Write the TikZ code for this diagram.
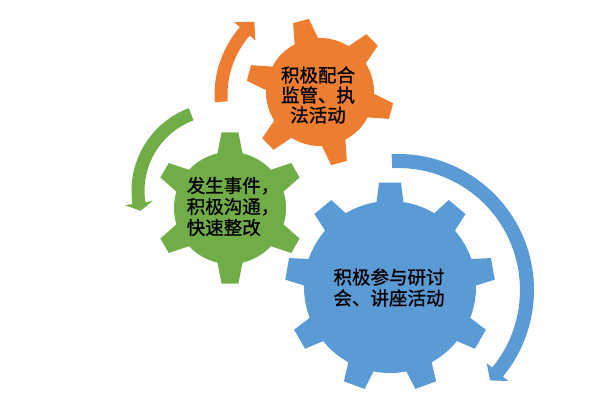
\documentclass[tikz,border=0pt]{standalone}
\usepackage{fontspec}
\newfontfamily\cjk[FakeBold=1.2]{Noto Sans CJK SC}
\definecolor{gOrange}{HTML}{ED7D31}
\definecolor{gGreen}{HTML}{70AD47}
\definecolor{gBlue}{HTML}{5B9BD5}
% #1 last index, #2 step, #3 offset, #4 body r, #5 tip R, #6 base half-angle, #7 tip half-angle, #8 colour
\newcommand{\mygear}[8]{%
  \fill[#8] ({#3-#6}:#4pt) \foreach \k in {0,...,#1} {
    -- ({#3+\k*#2-#6}:#4pt) -- ({#3+\k*#2-#7}:#5pt) -- ({#3+\k*#2+#7}:#5pt) -- ({#3+\k*#2+#6}:#4pt)
    arc[start angle={#3+\k*#2+#6}, end angle={#3+(\k+1)*#2-#6}, radius=#4pt]
  } -- cycle;}
% #1 R, #2 half body width, #3 half head width, #4 start angle, #5 head base angle, #6 tip angle, #7 colour
\newcommand{\myarrow}[7]{%
  \pgfmathsetmacro\aro{#1+#2}\pgfmathsetmacro\ari{#1-#2}%
  \pgfmathsetmacro\aho{#1+#3}\pgfmathsetmacro\ahi{#1-#3}%
  \fill[#7] (#4:\aro pt) arc[start angle=#4, end angle=#5, radius=\aro pt]
    -- (#5:\aho pt) -- (#6:#1pt) -- (#5:\ahi pt) -- (#5:\ari pt)
    arc[start angle=#5, end angle=#4, radius=\ari pt] -- cycle;}
\begin{document}
\begin{tikzpicture}[x=1pt,y=1pt,
  txt/.style={font=\cjk\fontsize{18.5}{21}\selectfont, text=black, inner sep=0pt}]
\useasboundingbox (0,0) rectangle (600,400);
\fill[white] (0,0) rectangle (600,400);
% circular arrows
\begin{scope}[shift={(318,305)}]
  \myarrow{97}{6.5}{14}{184}{139}{131}{gOrange}
\end{scope}
\begin{scope}[shift={(220,209)}]
  \myarrow{82}{6.5}{14}{110.6}{188.5}{194}{gGreen}
\end{scope}
\begin{scope}[shift={(398,110)}]
  \myarrow{129}{7}{14}{92.7}{-39.5}{-44.5}{gBlue}
\end{scope}
% gears
\begin{scope}[shift={(320,308)}]
  \mygear{5}{60}{45}{54}{74}{13}{6.3}{gOrange}
\end{scope}
\begin{scope}[shift={(230,192)}]
  \mygear{5}{60}{90}{56}{76}{13}{6.3}{gGreen}
\end{scope}
\begin{scope}[shift={(390,113)}]
  \mygear{8}{40}{90}{86}{105}{9}{6}{gBlue}
\end{scope}
% texts
\node[txt, align=center, font=\cjk\fontsize{18.5}{20}\selectfont] (torange) at (318,305) {积极配合\\监管、执\\法活动};
\node[txt, align=left] (tgreen) at (233,193.5) {发生事件，\\积极沟通，\\快速整改};
\node[txt, align=center] (tblue) at (389,112.5) {积极参与研讨\\会、讲座活动};
\end{tikzpicture}
\end{document}
